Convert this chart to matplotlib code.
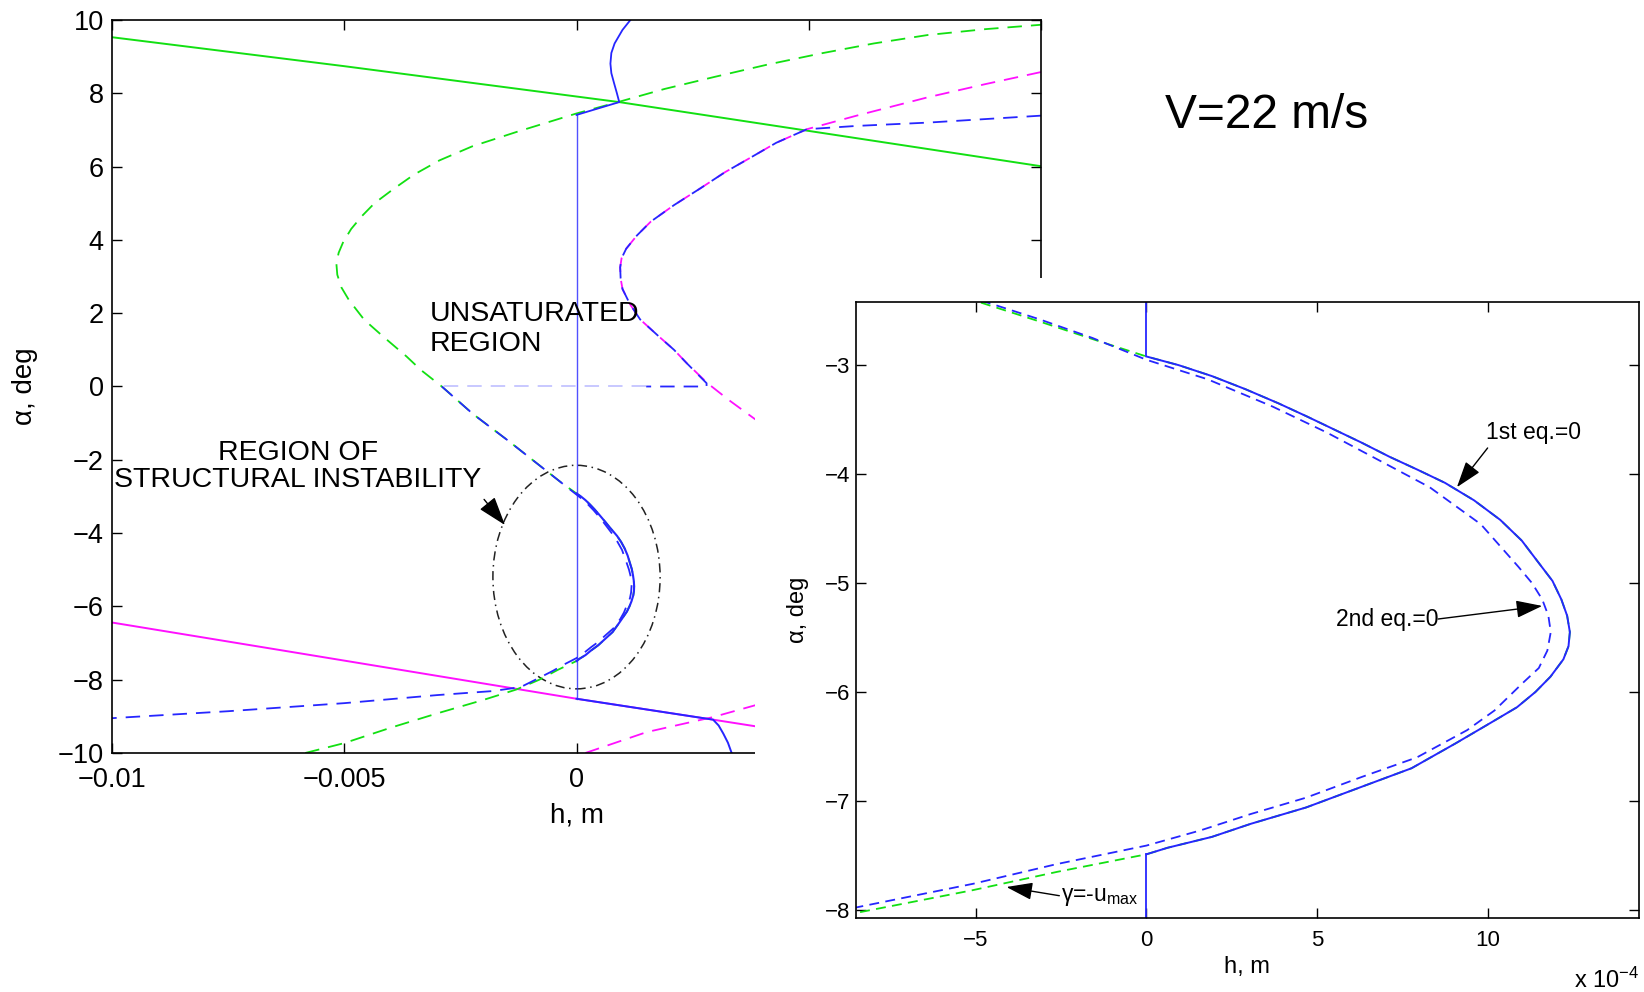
"""Equilibrium curves of the aeroelastic section at V=22 m/s, with a zoom on the
structurally unstable branch (h in m, alpha in deg)."""
import numpy as np
import matplotlib
matplotlib.use('Agg')
import matplotlib.pyplot as plt
from matplotlib.patches import Ellipse, Rectangle

plt.rcParams.update({'font.family': ['Liberation Sans', 'DejaVu Sans'],
                     'mathtext.default': 'regular',
                     'axes.linewidth': 1.2})

GREEN = '#12e012'
BLUE = '#2626ff'
BLUE_LT = '#c4c4ff'
MAGENTA = '#ff10ff'
DASH = (8, 5)
DASH_IN = (5.5, 3.5)

# ---- main panel data (h in m, alpha in deg) ----
# control saturation lines
sat_up_h = [-0.01, -0.005, 0.00092, 0.01]
sat_up_a = [9.53, 8.74, 7.76, 6.01]
sat_lo_h = [-0.01, -0.00634, 0.0, 0.00294, 0.0046]
sat_lo_a = [-6.44, -7.20, -8.52, -9.09, -9.42]

# 1st equation = 0 (unsaturated control), below and above the unstable loop
eq1_lo_h = [-0.00584, -0.0050, -0.0040, -0.0030, -0.0020, -0.0013, -0.0008,
            -0.0004, 0.0]
eq1_lo_a = [-10.0, -9.73, -9.31, -8.92, -8.55, -8.27, -8.00, -7.73, -7.49]
eq1_up_h = [0.0, -0.0003, -0.00084, -0.00148, -0.00223, -0.0029, -0.00335,
            -0.00366, -0.00416, -0.00457, -0.0049, -0.00506, -0.00515,
            -0.00517, -0.00512, -0.00502, -0.00485, -0.00462, -0.00435,
            -0.00395, -0.0035, -0.00295, -0.00225, -0.00128, 0.0, 0.00092,
            0.0019, 0.00298, 0.0041, 0.00527, 0.0064, 0.00756, 0.0088, 0.0100]
eq1_up_a = [-2.92, -2.65, -2.11, -1.47, -0.75, 0.0, 0.45, 0.82, 1.36, 1.82,
            2.36, 2.70, 3.05, 3.36, 3.65, 3.95, 4.30, 4.65, 5.00, 5.38, 5.78,
            6.17, 6.55, 6.95, 7.45, 7.77, 8.12, 8.45, 8.78, 9.09, 9.36, 9.59,
            9.75, 9.87]

# 1st equation = 0 with saturated control
mag_up_h = [0.0100, 0.0088, 0.00756, 0.00603, 0.00496, 0.0043, 0.00374,
            0.0032, 0.00267, 0.0021, 0.0016, 0.0013, 0.00107, 0.00097,
            0.00094, 0.00095, 0.00099, 0.00115, 0.00137, 0.00176, 0.0021,
            0.00237, 0.00282, 0.00328, 0.00382, 0.0046]
mag_up_a = [8.58, 8.25, 7.89, 7.39, 7.02, 6.65, 6.24, 5.85, 5.41, 4.95, 4.50,
            4.12, 3.76, 3.50, 3.25, 2.95, 2.66, 2.25, 1.83, 1.38, 1.00, 0.64,
            0.09, -0.37, -0.87, -1.55]
mag_lo_h = [0.00019, 0.00151, 0.00294, 0.00384, 0.0046]
mag_lo_a = [-10.0, -9.43, -9.02, -8.70, -8.45]

# 2nd equation = 0
eq2_up_h = [0.0100, 0.00756, 0.00603, 0.00496, 0.0043, 0.00374, 0.0032,
            0.00267, 0.0021, 0.0016, 0.0013, 0.00107, 0.00097, 0.00094,
            0.00095, 0.00099, 0.00115, 0.00137, 0.00176, 0.0021, 0.00237,
            0.0028, 0.0028, 0.0015]
eq2_up_a = [7.39, 7.20, 7.11, 7.02, 6.65, 6.24, 5.85, 5.41, 4.95, 4.50, 4.12,
            3.76, 3.50, 3.25, 2.95, 2.66, 2.25, 1.83, 1.38, 1.00, 0.64, 0.09,
            0.0, 0.0]
eq2_mid_h = [0.0015, -0.0029]
eq2_mid_a = [0.0, 0.0]
eq2_a_h = [-0.0029, -0.00223, -0.00148, -0.00084, -0.0003, 0.0]
eq2_a_a = [0.0, -0.75, -1.47, -2.11, -2.65, -2.95]
eq2_b_h = [-0.00026, -0.00051, -0.00085, -0.0012, -0.0018, -0.003, -0.005,
           -0.0075, -0.01]
eq2_b_a = [-7.58, -7.76, -7.98, -8.20, -8.31, -8.42, -8.64, -8.86, -9.05]

# equilibrium branch (solid)
eqb_top_h = [0.0, 0.00092, 0.00087, 0.00081, 0.00075, 0.00073, 0.00075,
             0.00082, 0.00099, 0.00116]
eqb_top_a = [7.41, 7.76, 8.00, 8.27, 8.55, 8.81, 9.10, 9.36, 9.73, 10.0]
eqb_bot_h = [0.0, 0.00294, 0.00306, 0.00316, 0.00326, 0.00334]
eqb_bot_a = [-8.52, -9.09, -9.25, -9.47, -9.72, -10.0]
eqb_vert_a = [-8.52, 7.41]

# ---- zoomed loop (h in 1e-4 m, alpha in deg) ----
loop_h = [0.0, 0.95, 1.92, 2.9, 3.87, 4.7, 5.50, 6.3, 7.12, 7.95, 8.75, 9.6,
          10.37, 11.0, 11.51, 11.9, 12.16, 12.33, 12.41, 12.37, 12.22, 11.84,
          11.4, 10.86, 10.05, 9.07, 7.77, 6.31, 4.68, 3.06, 1.92, 0.62, 0.0]
loop_a = [-2.92, -3.00, -3.10, -3.22, -3.35, -3.47, -3.59, -3.71, -3.84,
          -3.96, -4.08, -4.24, -4.42, -4.61, -4.82, -4.98, -5.15, -5.30,
          -5.45, -5.58, -5.70, -5.86, -6.00, -6.14, -6.29, -6.47, -6.70,
          -6.87, -7.06, -7.21, -7.33, -7.43, -7.49]
loop2_h = [0.0, 1.8, 3.7, 5.3, 6.8, 8.3, 9.8, 10.9, 11.3, 11.6, 11.78, 11.85,
           11.75, 11.5, 11.02, 10.2, 9.4, 7.93, 6.31, 4.68, 3.06, 1.59, 0.0]
loop2_a = [-2.95, -3.13, -3.38, -3.62, -3.87, -4.12, -4.46, -4.85, -5.00,
           -5.15, -5.30, -5.45, -5.62, -5.78, -5.92, -6.17, -6.35, -6.60,
           -6.78, -6.97, -7.12, -7.27, -7.41]
zin_eq1_tl_h = [-5.3, -3.12, -1.58, 0.0]
zin_eq1_tl_a = [-2.38, -2.60, -2.76, -2.92]
zin_eq2_tl_h = [-5.3, -3.12, -1.58, 0.0]
zin_eq2_tl_a = [-2.36, -2.58, -2.75, -2.95]
zin_eq1_bl_h = [0.0, -2.6, -5.1, -8.54, -9.0]
zin_eq1_bl_a = [-7.49, -7.65, -7.82, -8.03, -8.06]
zin_eq2_bl_h = [0.0, -2.63, -5.07, -8.54, -9.0]
zin_eq2_bl_a = [-7.41, -7.58, -7.76, -7.98, -8.01]

main_xticks = [-0.01, -0.005, 0.0, 0.005, 0.01]
main_xlabels = ['\u22120.01', '\u22120.005', '0', '0.005', '0.01']
main_yticks = list(range(-10, 11, 2))
zoom_xticks = [-5, 0, 5, 10]
zoom_yticks = [-8, -7, -6, -5, -4, -3]

E4 = 1e-4
loop_h_m = np.array(loop_h) * E4
loop2_h_m = np.array(loop2_h) * E4

fig = plt.figure(figsize=(16.44, 9.92), dpi=100)

# ---- main panel ----
ax = fig.add_axes([0.06813, 0.24093, 0.56509, 0.73891], zorder=1)
ax.plot(sat_up_h, sat_up_a, color=GREEN, lw=1.4)
ax.plot(sat_lo_h, sat_lo_a, color=MAGENTA, lw=1.4)
ax.plot(np.concatenate([eq1_lo_h, loop_h_m[::-1], eq1_up_h]),
        np.concatenate([eq1_lo_a, loop_a[::-1], eq1_up_a]),
        color=GREEN, lw=1.3, dashes=DASH)
ax.plot(mag_up_h, mag_up_a, color=MAGENTA, lw=1.3, dashes=DASH)
ax.plot(mag_lo_h, mag_lo_a, color=MAGENTA, lw=1.3, dashes=DASH)
ax.plot(eq2_up_h, eq2_up_a, color=BLUE, lw=1.3, dashes=DASH)
ax.plot(eq2_mid_h, eq2_mid_a, color=BLUE_LT, lw=1.3, dashes=DASH)
ax.plot(np.concatenate([eq2_a_h, loop2_h_m, eq2_b_h]),
        np.concatenate([eq2_a_a, loop2_a, eq2_b_a]),
        color=BLUE, lw=1.3, dashes=DASH)
ax.plot([0, 0], eqb_vert_a, color=BLUE, lw=1.0, alpha=0.8)
ax.plot(eqb_top_h, eqb_top_a, color=BLUE, lw=1.3)
ax.plot(eqb_bot_h, eqb_bot_a, color=BLUE, lw=1.4)
ax.plot(loop_h_m, loop_a, color=BLUE, lw=1.5)

ax.add_patch(Ellipse((0.0, -5.2), 0.0036, 6.1, fill=False, ec='#222222',
                     lw=1.1, ls=(0, (6, 3, 1, 3))))
ax.text(-0.00317, 1.57, 'UNSATURATED\nREGION', fontsize=20.5, ha='left',
        va='center', linespacing=1.2)
ax.text(-0.006, -2.17, 'REGION OF\nSTRUCTURAL INSTABILITY', fontsize=20.5,
        ha='center', va='center', multialignment='center', linespacing=1.05)
ax.annotate('', xy=(-0.00154, -3.78), xytext=(-0.00199, -3.08),
            arrowprops=dict(arrowstyle='-|>,head_length=0.9,head_width=0.3',
                            color='k', lw=1.0, shrinkA=0, shrinkB=0,
                            mutation_scale=20))

ax.set_xlim(-0.01, 0.01)
ax.set_ylim(-10, 10)
ax.set_xticks(main_xticks)
ax.set_xticklabels(main_xlabels)
ax.set_yticks(main_yticks)
ax.tick_params(direction='in', top=True, right=True, length=7, width=1.0,
               labelsize=19.5)
ax.tick_params(axis='x', pad=10)
ax.tick_params(axis='y', pad=6)
ax.set_xlabel('h, m', fontsize=20, va='center')
ax.xaxis.set_label_coords(0.5, -0.0846)
ax.set_ylabel('\u03b1, deg', fontsize=20, va='center')
ax.yaxis.set_label_coords(-0.094, 0.5)

# white backing behind the zoomed panel
fig.add_artist(Rectangle((755 / 1644, 0), 1 - 755 / 1644, 0.7198,
                         transform=fig.transFigure, fc='white', ec='none',
                         zorder=2))

fig.text(0.7086, 0.871, 'V=22 m/s', fontsize=34.5, ha='left',
         va='baseline')

# ---- zoomed panel ----
az = fig.add_axes([0.52044, 0.0751, 0.4764, 0.62046], zorder=3)
az.plot(np.concatenate([zin_eq1_tl_h, loop_h, zin_eq1_bl_h]),
        np.concatenate([zin_eq1_tl_a, loop_a, zin_eq1_bl_a]),
        color=GREEN, lw=1.3, dashes=DASH_IN)
az.plot(np.concatenate([zin_eq2_tl_h, loop2_h, zin_eq2_bl_h]),
        np.concatenate([zin_eq2_tl_a, loop2_a, zin_eq2_bl_a]),
        color=BLUE, lw=1.3, dashes=DASH_IN)
az.plot(loop_h, loop_a, color=BLUE, lw=1.4)
az.plot([0, 0], [-2.3, loop_a[0]], color=BLUE, lw=1.3)
az.plot([0, 0], [loop_a[-1], -8.2], color=BLUE, lw=1.3)

arrow_in = dict(arrowstyle='-|>,head_length=0.9,head_width=0.3', color='k',
                lw=1.0, shrinkA=0, shrinkB=0, mutation_scale=18)
az.text(9.95, -3.62, '1st eq.=0', fontsize=16.5, ha='left', va='center')
az.annotate('', xy=(9.1, -4.12), xytext=(10.0, -3.76), arrowprops=arrow_in)
az.text(8.55, -5.33, '2nd eq.=0', fontsize=16.5, ha='right', va='center')
az.annotate('', xy=(11.6, -5.21), xytext=(8.55, -5.33), arrowprops=arrow_in)
az.text(-2.5, -7.88, '\u03b3=-u$_{max}$', fontsize=16.5, ha='left',
        va='center')
az.annotate('', xy=(-4.1, -7.79), xytext=(-2.55, -7.87), arrowprops=arrow_in)

az.set_xlim(-8.52, 14.43)
az.set_ylim(-8.07, -2.42)
az.set_xticks(zoom_xticks)
az.set_yticks(zoom_yticks)
az.tick_params(direction='in', top=True, right=True, length=7, width=1.0,
               labelsize=16)
az.tick_params(axis='x', pad=9)
az.tick_params(axis='y', pad=4)
az.set_xlabel('h, m', fontsize=17, va='center')
az.xaxis.set_label_coords(0.5, -0.0806)
az.set_ylabel('\u03b1, deg', fontsize=17, va='center')
az.yaxis.set_label_coords(-0.0736, 0.5)
fig.text(1574 / 1644, 0.004, 'x 10$^{-4}$', fontsize=17, ha='left',
         va='baseline')

fig.savefig('out.png', dpi=100)
